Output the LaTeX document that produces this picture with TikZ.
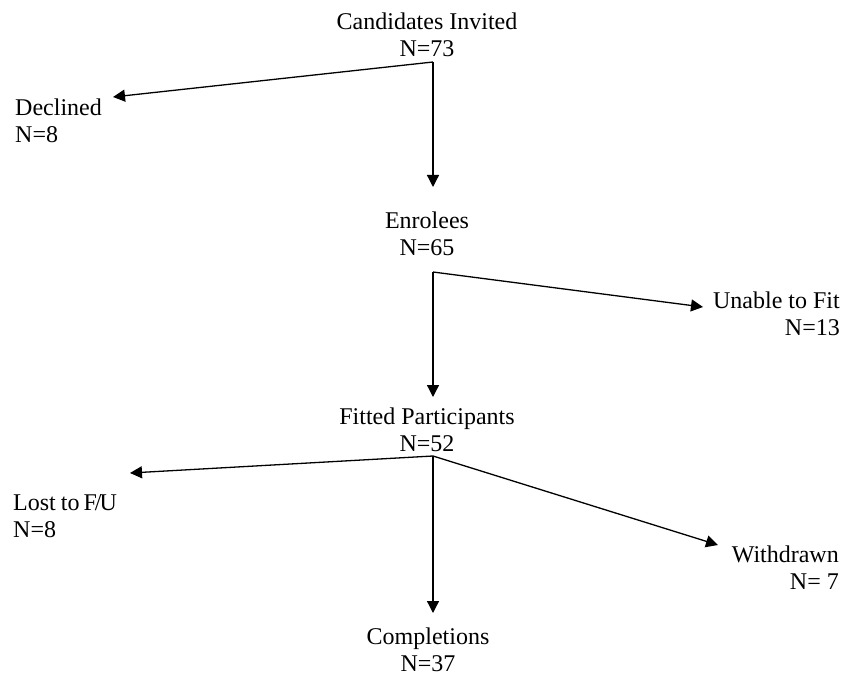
\documentclass[tikz,border=0pt]{standalone}
\usepackage{fontspec}
\setmainfont{Liberation Serif}
\usetikzlibrary{arrows.meta}
\begin{document}
\begin{tikzpicture}[x=1pt,y=-1pt,
  lbl/.style={inner sep=0pt, font=\fontsize{24}{27}\selectfont},
  arr/.style={line width=1.3pt, -{Triangle[length=12pt,width=12pt]}}]
\useasboundingbox (0,0) rectangle (854,676);
% labels
\node[lbl, align=center] (cand) at (427,35) {Candidates Invited\\N=73};
\node[lbl, align=left, anchor=west] (dec) at (15,121) {Declined\\N=8};
\node[lbl, align=center] (enr) at (427,234) {Enrolees\\N=65};
\node[lbl, align=right, anchor=east] (unab) at (840,314) {Unable to Fit\\N=13};
\node[lbl, align=center] (fit) at (427,430) {Fitted Participants\\N=52};
\node[lbl, align=left, anchor=west] (lost) at (13,516) {Lost\hspace{5pt}to\hspace{4pt}F\kern-2pt/\kern-2ptU\\N=8};
\node[lbl, align=right, anchor=east] (withd) at (839,568) {Withdrawn\\N= 7};
\node[lbl, align=center] (comp) at (428,650) {Completions\\N=37};
% junctions and tips
\coordinate (j1) at (433,62);
\coordinate (j2) at (433,272);
\coordinate (j3) at (433,456);
\coordinate (tdec) at (113,97);
\coordinate (tenr) at (433,187);
\coordinate (tunab) at (703,307);
\coordinate (tfit) at (433,397);
\coordinate (tlost) at (130,473);
\coordinate (tcomp) at (433,613);
\coordinate (twithd) at (718,545);
% connectors
\draw[arr] (j1) -- (tdec);
\draw[arr] (j1) -- (tenr);
\draw[arr] (j2) -- (tunab);
\draw[arr] (j2) -- (tfit);
\draw[arr] (j3) -- (tlost);
\draw[arr] (j3) -- (tcomp);
\draw[arr] (j3) -- (twithd);
\end{tikzpicture}
\end{document}
